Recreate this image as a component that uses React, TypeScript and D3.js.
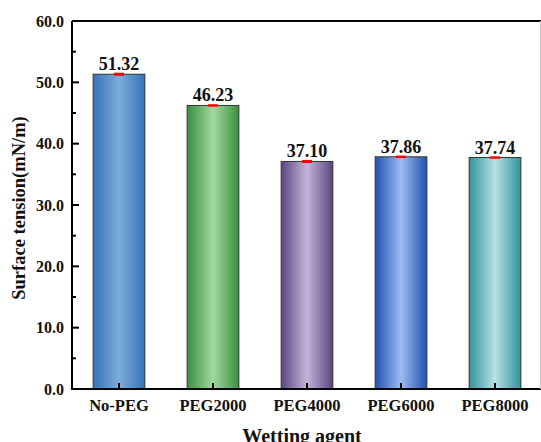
import React from "react";
import * as d3 from "d3";

const categories = ["No-PEG", "PEG2000", "PEG4000", "PEG6000", "PEG8000"];
const values = [51.32, 46.23, 37.1, 37.86, 37.74];
const errors = [0.25, 0.2, 0.25, 0.2, 0.2];
const labels = ["51.32", "46.23", "37.10", "37.86", "37.74"];
const edgeColors = ["#3572b5", "#3b8f3e", "#5b4680", "#2451b0", "#35909a"];
const centerColors = ["#7eaedb", "#a2d89f", "#c4b4da", "#9cbcf2", "#b4e4e8"];
const yTicks = [0, 10, 20, 30, 40, 50, 60];
const yMinor = [5, 15, 25, 35, 45, 55];

const W = 541, H = 442;
const left = 72, top = 21, right = 542, bottom = 389;
const FONT = "'Liberation Serif', 'Times New Roman', serif";

export default function App() {
  const x = d3.scaleBand<string>().domain(categories).range([left, right]).paddingInner(0.45).paddingOuter(0.225);
  const y = d3.scaleLinear().domain([0, 60]).range([bottom, top]);
  return (
    <svg width={W} height={H} style={{ position: "absolute", left: 0, top: 0, background: "#fff" }} fontFamily={FONT}>
      <defs>
        {categories.map((c, i) => (
          <linearGradient key={c} id={`g${i}`} x1="0" x2="1" y1="0" y2="0">
            <stop offset="0" stopColor={edgeColors[i]} />
            <stop offset="0.5" stopColor={centerColors[i]} />
            <stop offset="1" stopColor={edgeColors[i]} />
          </linearGradient>
        ))}
      </defs>
      {categories.map((c, i) => {
        const bx = x(c)!;
        const bw = x.bandwidth();
        const cx = bx + bw / 2;
        return (
          <g key={c}>
            <rect x={bx} y={y(values[i])} width={bw} height={bottom - y(values[i])} fill={`url(#g${i})`} stroke="#333" strokeWidth={1} />
            <rect x={cx - 5} y={y(values[i] + errors[i])} width={10} height={y(values[i] - errors[i]) - y(values[i] + errors[i])} fill="#ff0000" />
            <text x={cx} y={y(values[i]) - 4} textAnchor="middle" fontSize={18} fontWeight="bold" fill="#111">{labels[i]}</text>
            <line x1={cx} x2={cx} y1={bottom} y2={bottom - 6} stroke="#000" strokeWidth={2} />
            <text x={cx} y={411} textAnchor="middle" fontSize={16.5} fontWeight="bold" fill="#111">{c}</text>
          </g>
        );
      })}
      {yTicks.map((t) => (
        <g key={t}>
          <line x1={left} x2={left + 7} y1={y(t)} y2={y(t)} stroke="#000" strokeWidth={2} />
          <text x={64} y={y(t) + 5.5} textAnchor="end" fontSize={16} fontWeight="bold" fill="#111">{t.toFixed(1)}</text>
        </g>
      ))}
      {yMinor.map((t) => (
        <line key={t} x1={left} x2={left + 4} y1={y(t)} y2={y(t)} stroke="#000" strokeWidth={2} />
      ))}
      <line x1={left} x2={right} y1={top} y2={top} stroke="#000" strokeWidth={2} />
      <line x1={left} x2={left} y1={top} y2={bottom} stroke="#000" strokeWidth={2} />
      <line x1={left - 1} x2={right} y1={bottom} y2={bottom} stroke="#000" strokeWidth={2} />
      <line x1={540.5} x2={540.5} y1={top} y2={bottom} stroke="#ccc" strokeWidth={1} />
      <text x={(left + right) / 2 - 5} y={443} textAnchor="middle" fontSize={20} fontWeight="bold" fill="#111">Wetting agent</text>
      <text transform={`translate(25,${(top + bottom) / 2 + 3}) rotate(-90)`} textAnchor="middle" fontSize={18.5} fontWeight="bold" fill="#111">Surface tension(mN/m)</text>
    </svg>
  );
}
